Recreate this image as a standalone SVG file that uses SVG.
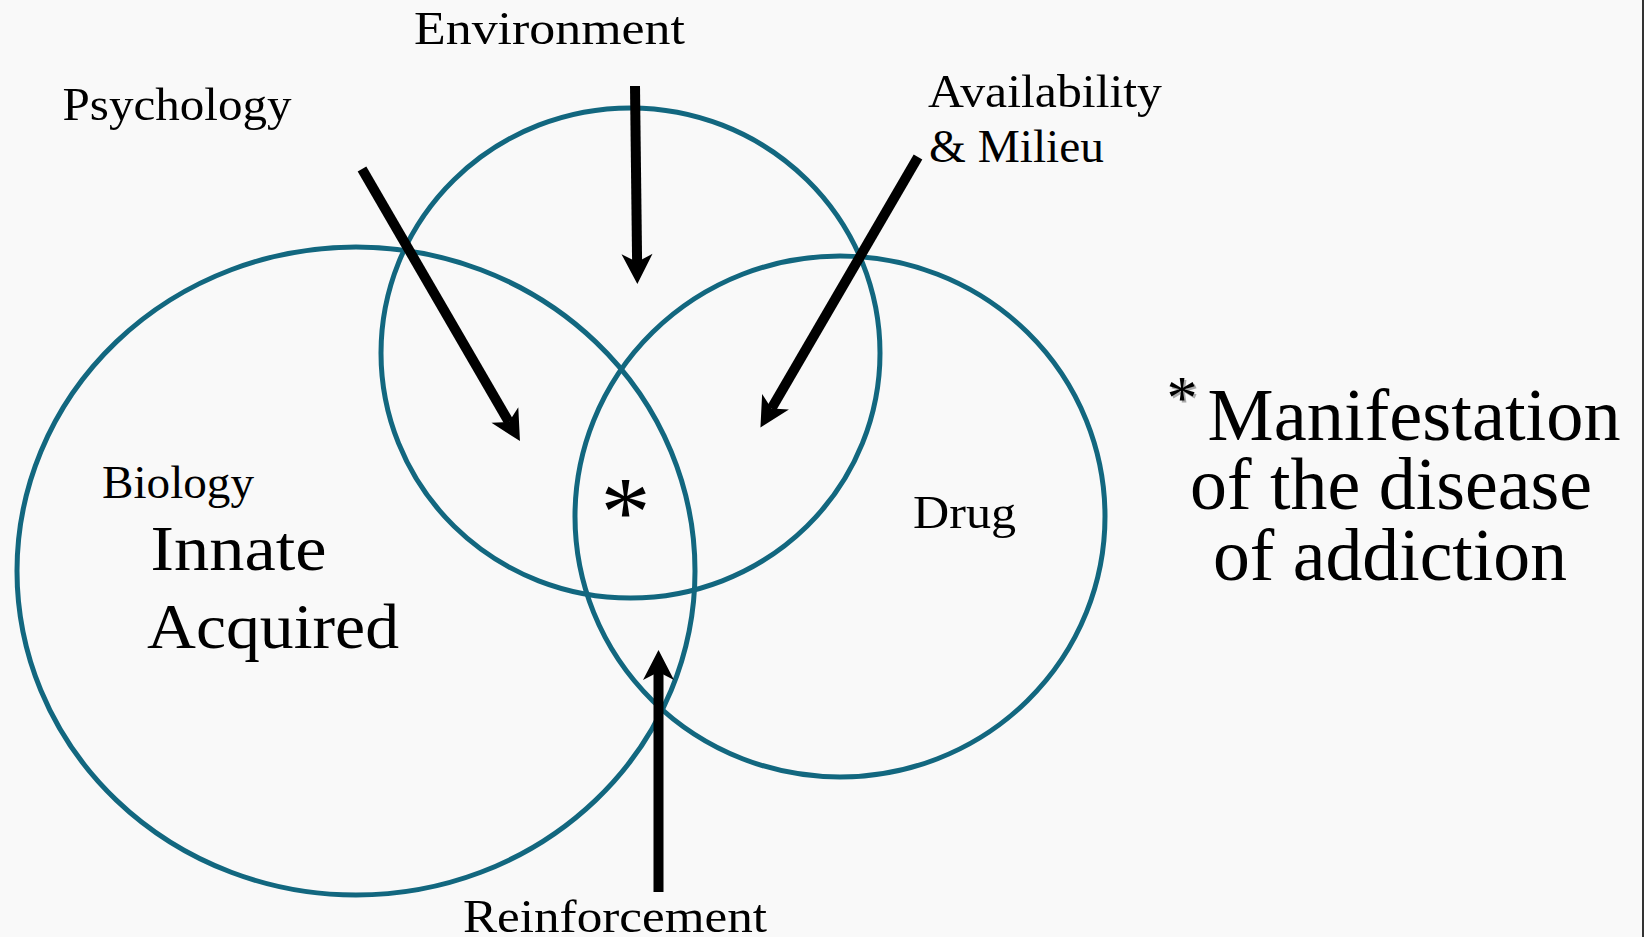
<svg xmlns="http://www.w3.org/2000/svg" width="1644" height="937" viewBox="0 0 1644 937">
  <style>
    .ring { fill: none; stroke: #12677f; stroke-width: 5; }
    .arrow { fill: none; stroke: #000; stroke-width: 10; marker-end: url(#ah); }
    .lbl { font-family: "Liberation Serif", "Times New Roman", serif; fill: #000; }
    .s { font-size: 47px; }
    .m { font-size: 64px; }
    .l { font-size: 75px; }
  </style>
  <defs>
    <marker id="ah" markerUnits="userSpaceOnUse" viewBox="-10 -17 34 34" refX="0" refY="0" markerWidth="34" markerHeight="34" orient="auto" overflow="visible">
      <path d="M22,0 L-8,-15.5 L0,0 L-8,15.5 Z" fill="#000"/>
    </marker>
  </defs>

  <rect x="0" y="0" width="1644" height="937" fill="#f9f9f9"/>
  <rect x="1642" y="0" width="2" height="937" fill="#333"/>

  <g id="biology">
    <ellipse class="ring" cx="356" cy="571" rx="339" ry="324"/>
    <text class="lbl s" x="102" y="498" textLength="152" lengthAdjust="spacingAndGlyphs">Biology</text>
    <text class="lbl m" x="150.6" y="570" textLength="176" lengthAdjust="spacingAndGlyphs">Innate</text>
    <text class="lbl m" x="147" y="648" textLength="252" lengthAdjust="spacingAndGlyphs">Acquired</text>
  </g>

  <g id="environment">
    <ellipse class="ring" cx="630.5" cy="353" rx="249.5" ry="245"/>
    <text class="lbl s" x="414" y="44" textLength="271" lengthAdjust="spacingAndGlyphs">Environment</text>
  </g>

  <g id="drug">
    <ellipse class="ring" cx="840" cy="516.5" rx="265" ry="260.5"/>
    <text class="lbl s" x="913" y="528" textLength="103" lengthAdjust="spacingAndGlyphs">Drug</text>
  </g>

  <g id="psychology">
    <text class="lbl s" x="62.5" y="120" textLength="229" lengthAdjust="spacingAndGlyphs">Psychology</text>
  </g>

  <g id="availability">
    <text class="lbl s" x="928" y="107" textLength="234" lengthAdjust="spacingAndGlyphs">Availability</text>
    <text class="lbl s" x="929" y="162" textLength="175" lengthAdjust="spacingAndGlyphs">&amp; Milieu</text>
  </g>

  <g id="reinforcement">
    <text class="lbl s" x="463" y="932" textLength="304" lengthAdjust="spacingAndGlyphs">Reinforcement</text>
  </g>

  <g id="center-star">
    <text class="lbl" x="625.5" y="545" font-size="100" text-anchor="middle">*</text>
  </g>

  <g id="legend">
    <text class="lbl" x="1184" y="420" font-size="62" text-anchor="middle" style="fill:#aaa">*</text>
    <text class="lbl" x="1182" y="418" font-size="62" text-anchor="middle">*</text>
    <text class="lbl l" x="1207.6" y="440" textLength="413" lengthAdjust="spacingAndGlyphs">Manifestation</text>
    <text class="lbl l" x="1190" y="509" textLength="402" lengthAdjust="spacingAndGlyphs">of the disease</text>
    <text class="lbl l" x="1213" y="580" textLength="354" lengthAdjust="spacingAndGlyphs">of addiction</text>
  </g>

  <g id="connectors">
    <line class="arrow" x1="635" y1="86" x2="637.1" y2="262"/>
    <line class="arrow" x1="362" y1="169" x2="508.9" y2="422"/>
    <line class="arrow" x1="918" y1="157" x2="771.5" y2="408.6"/>
    <line class="arrow" x1="658.5" y1="892" x2="658.5" y2="672"/>
  </g>
</svg>
